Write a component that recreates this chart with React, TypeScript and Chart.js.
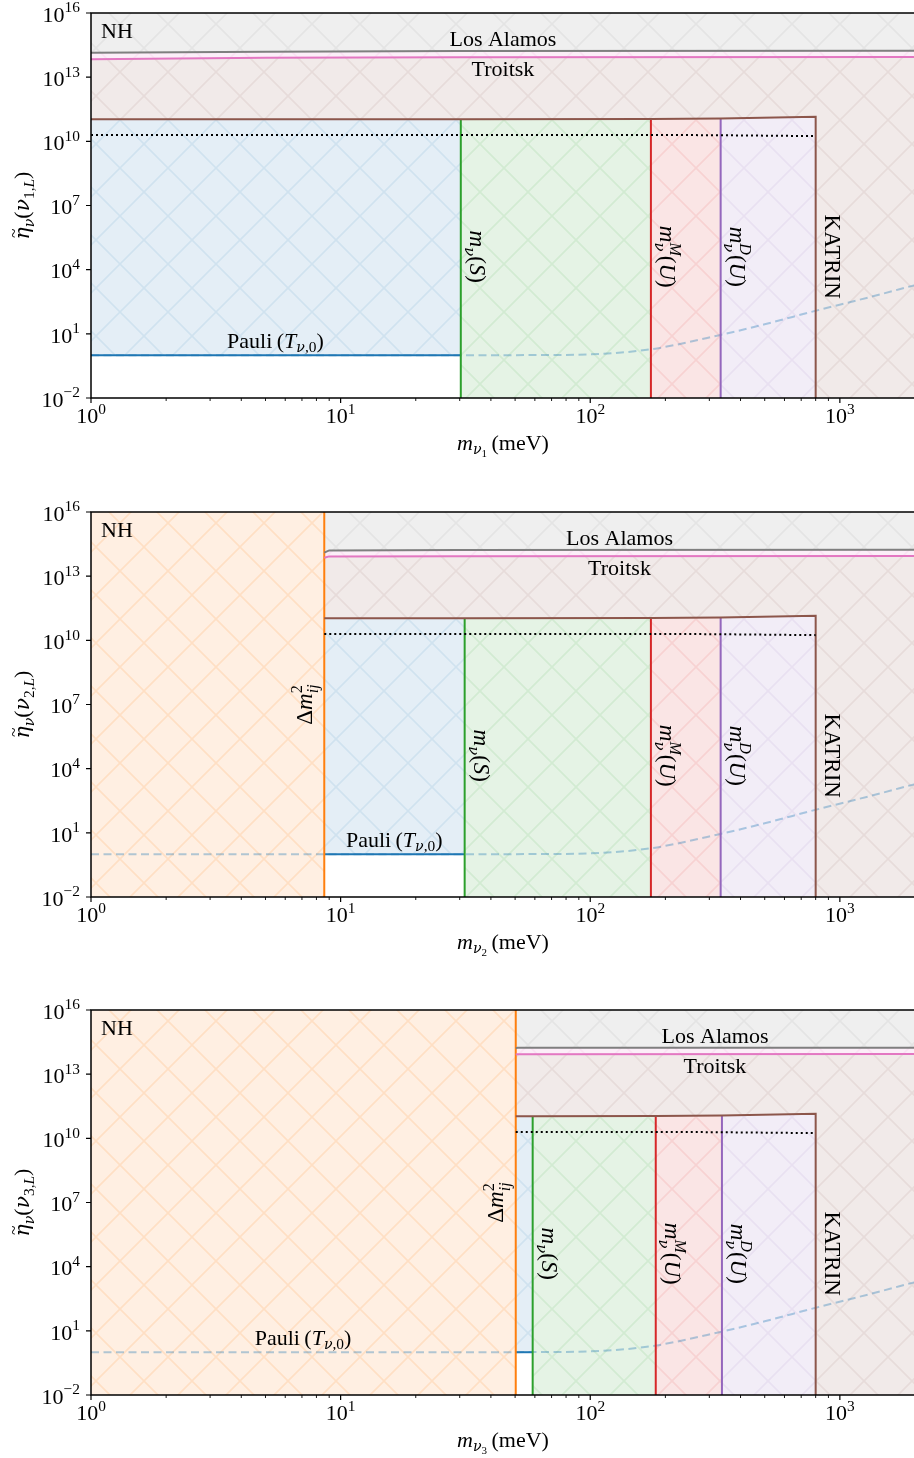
import React, { useEffect, useRef } from 'react';
import { Chart, registerables } from 'chart.js';

Chart.register(...registerables);

// ---------------- axis ranges & ticks ----------------
const X_MIN = 1;
const X_MAX = 2000;
const Y_MIN = 1e-2;
const Y_MAX = 1e16;

const xMajorTicks = [1, 10, 100, 1000];
const xMajorExp = ['0', '1', '2', '3'];
const xMinorTicks = [2, 3, 4, 5, 6, 7, 8, 9, 20, 30, 40, 50, 60, 70, 80, 90, 200, 300, 400, 500, 600, 700, 800, 900, 2000];
const yTicks = [1e-2, 1e1, 1e4, 1e7, 1e10, 1e13, 1e16];
const yTickExp = ['\u22122', '1', '4', '7', '10', '13', '16'];

// ---------------- data ----------------
const panelNames = ['1', '2', '3'];
const deltaMass = [0, 8.6, 50.3]; // 0 = no Δm² boundary
// boundaries: start, m_ν(S), m^M_ν(U), m^D_ν(U), KATRIN
const boundsM1 = [1, 30.3, 175, 333, 800];
const boundsM2 = [8.6, 31.4, 175, 333, 800];
const boundsM3 = [50.3, 58.8, 183, 337, 800];
const katrinEta = [1.07e11, 1.07e11, 1.1e11, 1.18e11, 1.42e11];

const dottedM1 = [1, 300, 800];
const dottedM2 = [8.6, 300, 800];
const dottedM3 = [50.3, 300, 800];
const dottedEta = [2.0e10, 1.95e10, 1.75e10];

const losAlamosM1 = [1, 5, 30, 2000];
const losAlamosEta1 = [1.38e14, 1.55e14, 1.66e14, 1.74e14];
const troitskM1 = [1, 5, 30, 2000];
const troitskEta1 = [6.9e13, 8.0e13, 8.5e13, 8.7e13];
const losAlamosM2 = [8.6, 9.0, 30, 2000];
const losAlamosEta2 = [1.25e14, 1.6e14, 1.66e14, 1.74e14];
const troitskM2 = [8.6, 9.0, 30, 2000];
const troitskEta2 = [7.2e13, 8.4e13, 8.5e13, 8.7e13];
const losAlamosM3 = [50.3, 51, 2000];
const losAlamosEta3 = [1.6e14, 1.7e14, 1.74e14];
const troitskM3 = [50.3, 51, 2000];
const troitskEta3 = [8.2e13, 8.6e13, 8.7e13];

const pauliEta = 1.0;
const pauliCurveM = [1, 10, 30, 60, 100, 175, 333, 500, 800, 1300, 2000];
const pauliCurveEta = [1, 1, 1, 1.02, 1.1, 1.9, 8.9, 28, 120, 500, 1900];

const labelLosAlamosM = [44.7, 131, 316];
const labelLosAlamosEta = 6.6e14;
const labelTroitskEta = 2.4e13;
const labelPauliM = [5.48, 16.4, 7.07];
const labelPauliEta = 5;
const labelVertEta = 4e4;
const labelDeltaEta = 1e7;

// ---------------- style ----------------
const FONT = '"Liberation Serif", "DejaVu Serif", serif';
const GREEK_FONT = '"DejaVu Serif", "Liberation Serif", serif';
const HATCH = 48;
const CANVAS_W = 915;
const CANVAS_H = 486;
const PANEL_TOPS = [0, 499, 997];

type Pt = { x: number; y: number };
const pts = (xs: number[], ys: number[]): Pt[] => xs.map((x, i) => ({ x, y: ys[i] }));

type PanelSpec = {
  name: string;
  dm: number;
  b: number[];
  la: Pt[];
  tr: Pt[];
  dot: Pt[];
  alamosX: number;
  pauliX: number;
};

const panels: PanelSpec[] = [
  { name: panelNames[0], dm: deltaMass[0], b: boundsM1, la: pts(losAlamosM1, losAlamosEta1), tr: pts(troitskM1, troitskEta1), dot: pts(dottedM1, dottedEta), alamosX: labelLosAlamosM[0], pauliX: labelPauliM[0] },
  { name: panelNames[1], dm: deltaMass[1], b: boundsM2, la: pts(losAlamosM2, losAlamosEta2), tr: pts(troitskM2, troitskEta2), dot: pts(dottedM2, dottedEta), alamosX: labelLosAlamosM[1], pauliX: labelPauliM[1] },
  { name: panelNames[2], dm: deltaMass[2], b: boundsM3, la: pts(losAlamosM3, losAlamosEta3), tr: pts(troitskM3, troitskEta3), dot: pts(dottedM3, dottedEta), alamosX: labelLosAlamosM[2], pauliX: labelPauliM[2] },
];

// ---------------- rich text ----------------
type Seg = { t: string; it?: boolean; s?: number; dy?: number; stack?: boolean; cx?: boolean; gf?: boolean };

function fontOf(size: number, it?: boolean, gf?: boolean) {
  return `${it ? 'italic ' : ''}${gf ? size * 0.92 : size}px ${gf ? GREEK_FONT : FONT}`;
}

function drawRich(
  ctx: CanvasRenderingContext2D,
  x: number,
  y: number,
  segs: Seg[],
  base: number,
  align: 'left' | 'center' | 'right',
  rot = 0,
  vmid = false
) {
  const items: { seg: Seg; x: number; size: number }[] = [];
  let cur = 0;
  let lastStart = 0;
  let lastW = 0;
  for (const sg of segs) {
    const size = base * (sg.s ?? 1);
    ctx.font = fontOf(size, sg.it, sg.gf);
    const w = ctx.measureText(sg.t).width;
    if (sg.stack) {
      const sx = sg.cx ? lastStart + (lastW - w) / 2 : lastStart;
      items.push({ seg: sg, x: sx, size });
      if (!sg.cx) {
        lastW = Math.max(lastW, w);
        cur = lastStart + lastW;
      }
    } else {
      items.push({ seg: sg, x: cur, size });
      lastStart = cur;
      lastW = w;
      cur += w;
    }
  }
  const width = cur;
  const x0 = align === 'left' ? 0 : align === 'center' ? -width / 2 : -width;
  const by = vmid ? base * 0.33 : 0;
  ctx.save();
  ctx.translate(x, y);
  if (rot) ctx.rotate(rot);
  ctx.fillStyle = '#000';
  ctx.textBaseline = 'alphabetic';
  ctx.textAlign = 'left';
  for (const it of items) {
    ctx.font = fontOf(it.size, it.seg.it, it.seg.gf);
    ctx.fillText(it.seg.t, x0 + it.x, by + (it.seg.dy ?? 0) * base);
  }
  ctx.restore();
}

const nu = (s = 0.7, dy = 0.22, stack = false): Seg => ({ t: 'ν', it: true, gf: true, s, dy, stack });

const segPauli: Seg[] = [
  { t: 'Pauli' }, { t: '\u2009(' }, { t: 'T', it: true },
  nu(0.7, 0.22), { t: ',0', s: 0.7, dy: 0.22 }, { t: ')' },
];
const segMS: Seg[] = [
  { t: 'm', it: true }, nu(0.7, 0.22), { t: '(' }, { t: 'S', it: true }, { t: ')' },
];
const segMM: Seg[] = [
  { t: 'm', it: true }, { t: 'M', it: true, s: 0.7, dy: -0.42 }, nu(0.7, 0.25, true),
  { t: '(' }, { t: 'U', it: true }, { t: ')' },
];
const segMD: Seg[] = [
  { t: 'm', it: true }, { t: 'D', it: true, s: 0.7, dy: -0.42 }, nu(0.7, 0.25, true),
  { t: '(' }, { t: 'U', it: true }, { t: ')' },
];
const segKatrin: Seg[] = [{ t: 'KATRIN' }];
const segDelta: Seg[] = [
  { t: 'Δ' }, { t: 'm', it: true }, { t: '2', s: 0.7, dy: -0.42 }, { t: 'ij', it: true, s: 0.7, dy: 0.28, stack: true },
];
const segYLabel = (n: string): Seg[] => [
  { t: 'η', it: true, gf: true }, { t: '~', s: 0.8, dy: -0.45, stack: true, cx: true },
  nu(0.7, 0.22), { t: '(' }, nu(1, 0),
  { t: n, s: 0.7, dy: 0.22 }, { t: ',', s: 0.7, dy: 0.22 }, { t: 'L', it: true, s: 0.7, dy: 0.22 }, { t: ')' },
];
const segXLabel = (n: string): Seg[] => [
  { t: 'm', it: true }, nu(0.7, 0.2), { t: n, s: 0.5, dy: 0.33 }, { t: '\u2009(meV)' },
];
const segTick = (e: string): Seg[] => [{ t: '10' }, { t: e, s: 0.7, dy: -0.43 }];

// ---------------- patterns ----------------
function hatchPattern(ctx: CanvasRenderingContext2D, rgb: number[], fa: number, la: number) {
  const s = HATCH;
  const c = document.createElement('canvas');
  c.width = s;
  c.height = s;
  const g = c.getContext('2d')!;
  g.fillStyle = `rgba(${rgb.join(',')},${fa})`;
  g.fillRect(0, 0, s, s);
  g.strokeStyle = `rgba(${rgb.join(',')},${la})`;
  g.lineWidth = 1.6;
  g.beginPath();
  for (const o of [-s, 0, s]) {
    g.moveTo(o, 0);
    g.lineTo(o + s, s);
    g.moveTo(o + s, 0);
    g.lineTo(o, s);
  }
  g.stroke();
  return ctx.createPattern(c, 'repeat')!;
}

function makePatterns(ctx: CanvasRenderingContext2D) {
  return {
    orange: hatchPattern(ctx, [255, 127, 14], 0.12, 0.14),
    gray: hatchPattern(ctx, [127, 127, 127], 0.12, 0.1),
    pink: hatchPattern(ctx, [227, 119, 194], 0.12, 0.1),
    brown: hatchPattern(ctx, [140, 86, 75], 0.12, 0.1),
    blue: hatchPattern(ctx, [31, 119, 180], 0.12, 0.1),
    green: hatchPattern(ctx, [44, 160, 44], 0.12, 0.1),
    red: hatchPattern(ctx, [214, 39, 40], 0.12, 0.1),
    purple: hatchPattern(ctx, [148, 103, 189], 0.12, 0.1),
  };
}

// ---------------- datasets ----------------
function buildDatasets(p: PanelSpec, pat: ReturnType<typeof makePatterns>) {
  const [b0, bS, bM, bD, bK] = p.b;
  const kt = pts(p.b, katrinEta);
  const list: any[] = [];
  const poly = (data: Pt[], bg: any) => ({
    data, fill: 'shape', backgroundColor: bg, borderColor: 'rgba(0,0,0,0)', borderWidth: 0, pointRadius: 0, tension: 0,
  });
  const line = (data: Pt[], color: string, width = 2, dash: number[] = [], extra: any = {}) => ({
    data, fill: false, borderColor: color, borderWidth: width, borderDash: dash, pointRadius: 0, tension: 0,
    borderCapStyle: 'butt', borderJoinStyle: 'miter', ...extra,
  });

  if (p.dm) {
    list.push(poly([{ x: X_MIN, y: Y_MIN }, { x: X_MIN, y: Y_MAX }, { x: p.dm, y: Y_MAX }, { x: p.dm, y: Y_MIN }], pat.orange));
  }
  list.push(poly([...p.la, { x: X_MAX, y: Y_MAX }, { x: b0, y: Y_MAX }], pat.gray));
  list.push(poly([...p.la, ...[...p.tr].reverse()], pat.pink));
  list.push(poly([...p.tr, { x: X_MAX, y: Y_MIN }, { x: bK, y: Y_MIN }, ...[...kt].reverse()], pat.brown));
  list.push(poly([{ x: b0, y: pauliEta }, kt[0], kt[1], { x: bS, y: pauliEta }], pat.blue));
  list.push(poly([{ x: bS, y: Y_MIN }, kt[1], kt[2], { x: bM, y: Y_MIN }], pat.green));
  list.push(poly([{ x: bM, y: Y_MIN }, kt[2], kt[3], { x: bD, y: Y_MIN }], pat.red));
  list.push(poly([{ x: bD, y: Y_MIN }, kt[3], kt[4], { x: bK, y: Y_MIN }], pat.purple));

  list.push(line(pts(pauliCurveM, pauliCurveEta), 'rgba(31,119,180,0.35)', 2, [8, 4.5], { cubicInterpolationMode: 'monotone' }));
  list.push(line([{ x: b0, y: pauliEta }, { x: bS, y: pauliEta }], '#1f77b4'));
  list.push(line([{ x: bS, y: Y_MIN }, kt[1]], '#2ca02c'));
  list.push(line([{ x: bM, y: Y_MIN }, kt[2]], '#d62728'));
  list.push(line([{ x: bD, y: Y_MIN }, kt[3]], '#9467bd'));
  if (p.dm) list.push(line([{ x: p.dm, y: Y_MIN }, { x: p.dm, y: Y_MAX }], '#ff7f0e'));
  list.push(line([...kt, { x: bK, y: Y_MIN }], '#8c564b'));
  list.push(line(p.dot, '#000000', 2, [2, 3]));
  list.push(line(p.la, '#7f7f7f'));
  list.push(line(p.tr, '#e377c2'));
  // Chart.js paints index 0 last, so reverse the paint order
  return list.reverse();
}

// ---------------- decorations plugin ----------------
function decorPlugin(p: PanelSpec) {
  return {
    id: 'decor',
    afterDatasetsDraw(chart: any) {
      const ctx: CanvasRenderingContext2D = chart.ctx;
      const a = chart.chartArea;
      const X = (v: number) => chart.scales.x.getPixelForValue(v);
      const Y = (v: number) => chart.scales.y.getPixelForValue(v);
      drawRich(ctx, a.left + 10, a.top + 25, [{ t: 'NH' }], 22, 'left');
      drawRich(ctx, X(p.alamosX), Y(labelLosAlamosEta), [{ t: 'Los Alamos' }], 22, 'center', 0, true);
      drawRich(ctx, X(p.alamosX), Y(labelTroitskEta), [{ t: 'Troitsk' }], 22, 'center', 0, true);
      drawRich(ctx, X(p.pauliX), Y(labelPauliEta), segPauli, 22, 'center', 0, true);
      drawRich(ctx, X(p.b[1]) + 17, Y(labelVertEta), segMS, 23, 'center', Math.PI / 2, true);
      drawRich(ctx, X(p.b[2]) + 17, Y(labelVertEta), segMM, 23, 'center', Math.PI / 2, true);
      drawRich(ctx, X(p.b[3]) + 17, Y(labelVertEta), segMD, 23, 'center', Math.PI / 2, true);
      drawRich(ctx, X(p.b[4]) + 17, Y(labelVertEta), segKatrin, 23, 'center', Math.PI / 2, true);
      if (p.dm) drawRich(ctx, X(p.dm) - 20, Y(labelDeltaEta), segDelta, 23, 'center', -Math.PI / 2, true);
    },
    afterDraw(chart: any) {
      const ctx: CanvasRenderingContext2D = chart.ctx;
      const a = chart.chartArea;
      const X = (v: number) => chart.scales.x.getPixelForValue(v);
      const Y = (v: number) => chart.scales.y.getPixelForValue(v);
      ctx.save();
      ctx.strokeStyle = '#000';
      ctx.lineWidth = 1.2;
      ctx.beginPath();
      for (const v of xMajorTicks) {
        const px = X(v);
        ctx.moveTo(px, a.bottom);
        ctx.lineTo(px, a.bottom + 5);
      }
      for (const v of yTicks) {
        const py = Y(v);
        ctx.moveTo(a.left - 5, py);
        ctx.lineTo(a.left, py);
      }
      ctx.stroke();
      ctx.lineWidth = 0.9;
      ctx.beginPath();
      for (const v of xMinorTicks) {
        const px = X(v);
        ctx.moveTo(px, a.bottom);
        ctx.lineTo(px, a.bottom + 3);
      }
      ctx.stroke();
      ctx.lineWidth = 1.5;
      ctx.beginPath();
      ctx.moveTo(a.right + 2, a.top);
      ctx.lineTo(a.left, a.top);
      ctx.lineTo(a.left, a.bottom);
      ctx.lineTo(a.right + 2, a.bottom);
      ctx.stroke();
      ctx.restore();

      xMajorTicks.forEach((v, i) => drawRich(ctx, X(v), a.bottom + 25, segTick(xMajorExp[i]), 22, 'center'));
      yTicks.forEach((v, i) => drawRich(ctx, a.left - 11, Y(v) + 8.8, segTick(yTickExp[i]), 22, 'right'));
      drawRich(ctx, (a.left + a.right) / 2, a.bottom + 52, segXLabel(p.name), 22, 'center');
      drawRich(ctx, 29, (a.top + a.bottom) / 2, segYLabel(p.name), 22, 'center', -Math.PI / 2);
    },
  };
}

// ---------------- components ----------------
function Panel({ p, top }: { p: PanelSpec; top: number }) {
  const ref = useRef<HTMLCanvasElement>(null);
  useEffect(() => {
    const canvas = ref.current!;
    const ctx = canvas.getContext('2d')!;
    const pat = makePatterns(ctx);
    const chart = new Chart(ctx, {
      type: 'line',
      data: { datasets: buildDatasets(p, pat) },
      options: {
        animation: false,
        responsive: false,
        devicePixelRatio: 1,
        events: [],
        layout: { padding: { left: 91, top: 13, right: 0, bottom: 88 } },
        scales: {
          x: { type: 'logarithmic', min: X_MIN, max: X_MAX, display: false, bounds: 'data' },
          y: { type: 'logarithmic', min: Y_MIN, max: Y_MAX, display: false, bounds: 'data' },
        },
        plugins: { legend: { display: false }, tooltip: { enabled: false } },
      } as any,
      plugins: [decorPlugin(p) as any],
    });
    return () => chart.destroy();
  }, []);
  return (
    <canvas
      ref={ref}
      width={CANVAS_W}
      height={CANVAS_H}
      style={{ position: 'absolute', left: 0, top, width: CANVAS_W, height: CANVAS_H }}
    />
  );
}

export default function App() {
  return (
    <div style={{ position: 'fixed', left: 0, top: 0, width: 914, height: 1458, overflow: 'hidden', background: '#fff' }}>
      {panels.map((p, i) => (
        <Panel key={i} p={p} top={PANEL_TOPS[i]} />
      ))}
    </div>
  );
}
